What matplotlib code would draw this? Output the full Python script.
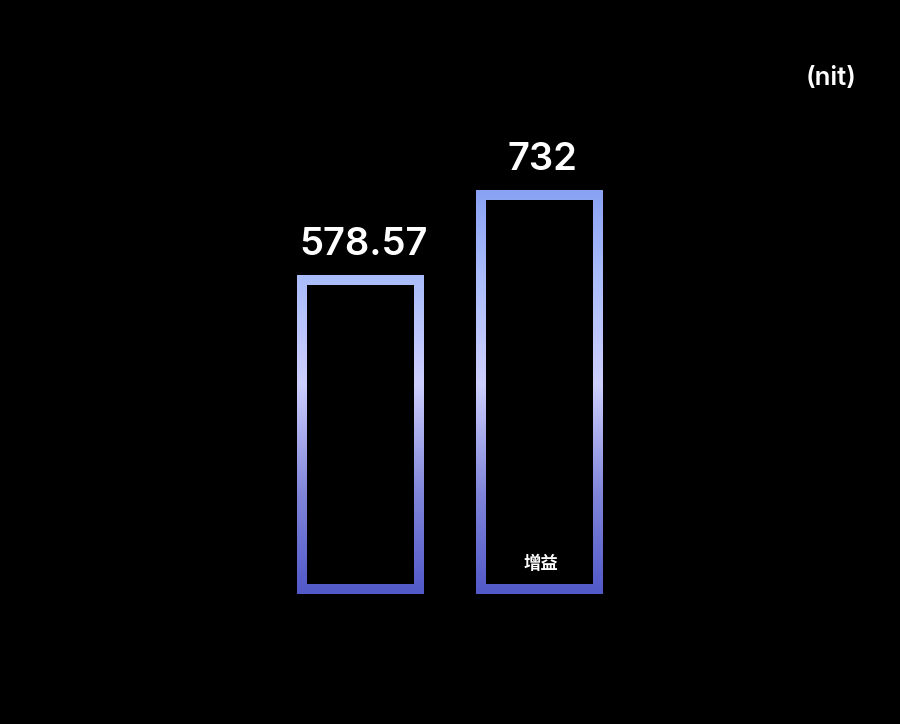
import numpy as np
import matplotlib.pyplot as plt
from matplotlib.colors import LinearSegmentedColormap
from matplotlib.path import Path
from matplotlib.patches import PathPatch

values = [578.57, 732]
value_labels = ["578.57", "732"]
bar_notes = ["", "增益"]
unit = "(nit)"

W, H, DPI = 900, 724, 100
fig = plt.figure(figsize=(W / DPI, H / DPI), dpi=DPI, facecolor="black")
ax = fig.add_axes([0, 0, 1, 1])
ax.set_facecolor("black")
ax.axis("off")

# pixel geometry -> data limits
px_x = 179.0            # px per x unit (bar spacing)
px_y = 404.0 / 732      # px per value unit
x0_px, base_px = 360.5, 130.0
ax.set_xlim(-x0_px / px_x, (W - x0_px) / px_x)
ax.set_ylim(-base_px / px_y, (H - base_px) / px_y)

x = np.arange(len(values))
width = 127 / px_x
bars = ax.bar(x, values, width=width, color="none", edgecolor="none")

cmap = LinearSegmentedColormap.from_list(
    "grad", [(0.0, "#5259c9"), (0.25, "#8186da"), (0.52, "#cdcffd"),
             (0.78, "#abbdfb"), (1.0, "#8aa2f4")])
grad = np.linspace(0, 1, 512).reshape(-1, 1)

bw_x, bw_y = 10 / px_x, 10 / px_y
for b in bars:
    x0, y0 = b.get_x(), b.get_y()
    w, h = b.get_width(), b.get_height()
    outer = [(x0, y0), (x0 + w, y0), (x0 + w, y0 + h), (x0, y0 + h), (x0, y0)]
    ix0, iy0 = x0 + bw_x, y0 + bw_y
    ix1, iy1 = x0 + w - bw_x, y0 + h - bw_y
    inner = [(ix0, iy0), (ix0, iy1), (ix1, iy1), (ix1, iy0), (ix0, iy0)]
    verts = outer + inner
    codes = ([Path.MOVETO] + [Path.LINETO] * 3 + [Path.CLOSEPOLY]) * 2
    patch = PathPatch(Path(verts, codes), facecolor="none", edgecolor="none")
    ax.add_patch(patch)
    im = ax.imshow(grad, cmap=cmap, origin="lower", aspect="auto",
                   extent=[x0, x0 + w, 0, 732], interpolation="bilinear")
    im.set_clip_path(patch)

for xi, v, lab in zip(x, values, value_labels):
    ax.text(xi + 3 / px_x, v + 20 / px_y, lab, ha="center", va="baseline",
            color="white", fontsize=27.5, fontweight="semibold",
            family=["Inter", "DejaVu Sans"])

for xi, note in zip(x, bar_notes):
    if note:
        ax.text(xi + 1 / px_x, 30 / px_y, note, ha="center", va="center",
                color="white", fontsize=12.5, fontweight="bold",
                family=["Noto Sans CJK SC", "DejaVu Sans"])

ax.text(856 / W, 1 - 78 / H, unit, transform=ax.transAxes, ha="right",
        va="center", color="white", fontsize=18.5, fontweight="semibold",
        family=["Inter", "DejaVu Sans"])

ax.set_xlim(-x0_px / px_x, (W - x0_px) / px_x)
ax.set_ylim(-base_px / px_y, (H - base_px) / px_y)
fig.savefig("out.png", dpi=DPI, facecolor="black")
